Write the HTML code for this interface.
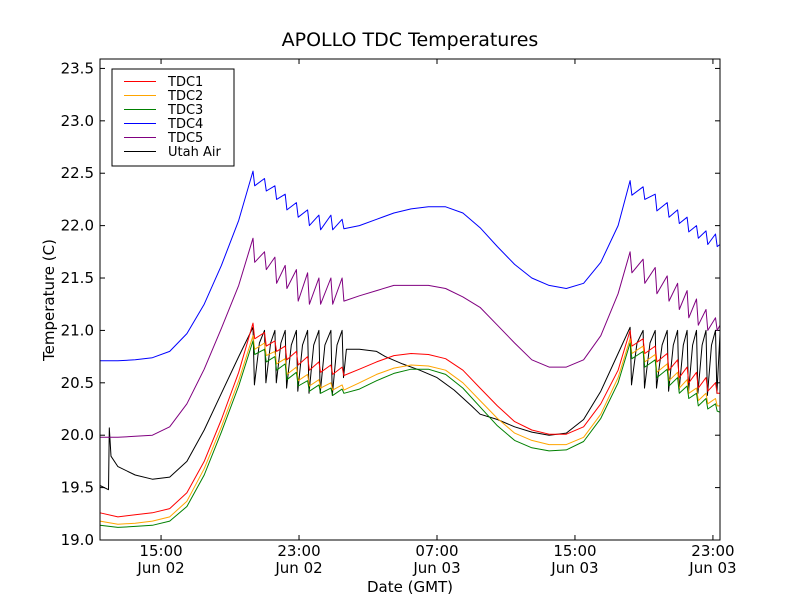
<!DOCTYPE html>
<html><head><meta charset="utf-8"><style>
body{margin:0;background:#fff;}
svg text{font-family:"DejaVu Sans","Liberation Sans",sans-serif;fill:#000;}
</style></head><body>
<svg id="chart" width="800" height="600" viewBox="0 0 800 600" xmlns="http://www.w3.org/2000/svg">
<rect width="800" height="600" fill="#fff"/>
<text x="410" y="46" font-size="19" text-anchor="middle">APOLLO TDC Temperatures</text>
<text x="54" y="300" font-size="15" text-anchor="middle" transform="rotate(-90 54 300)">Temperature (C)</text>
<text x="410" y="592" font-size="15" text-anchor="middle">Date (GMT)</text>
<g id="grid"></g>
<g id="series"></g>
<rect x="100" y="59" width="620" height="481" fill="none" stroke="#000" stroke-width="1"/>
<g id="legend"></g>
</svg>
<script>
const seriesNames = ["TDC1","TDC2","TDC3","TDC4","TDC5","Utah Air"];
const seriesColors = ["#ff0000","#ffa500","#008000","#0000ff","#800080","#000000"];
const yTicks = [19.0,19.5,20.0,20.5,21.0,21.5,22.0,22.5,23.0,23.5];
const xTickHours = [15,23,31,39,47];
const xTickTimes = ["15:00","23:00","07:00","15:00","23:00"];
const xTickDates = ["Jun 02","Jun 02","Jun 03","Jun 03","Jun 03"];
const T = [11.46,12.5,13.5,14.5,15.5,16.5,17.5,18.5,19.5,
20.33,20.43,21.0,21.1,21.6,21.7,22.2,22.3,22.85,22.95,23.5,23.6,24.15,24.25,24.85,24.95,25.5,25.6,
26.5,27.5,28.5,29.5,30.5,31.5,32.5,33.5,34.5,35.5,36.5,37.5,38.5,39.5,40.5,41.5,
42.2,42.3,42.95,43.05,43.65,43.75,44.35,44.45,44.95,45.05,45.5,45.6,46.05,46.15,46.6,46.7,47.15,47.25,47.41];
const tdc1 = [19.26,19.22,19.24,19.26,19.30,19.45,19.75,20.15,20.60,
21.07,20.92,20.98,20.85,20.90,20.80,20.85,20.72,20.80,20.67,20.75,20.62,20.70,20.60,20.67,20.58,20.65,20.57,
20.63,20.70,20.76,20.78,20.77,20.73,20.62,20.45,20.28,20.13,20.05,20.01,20.01,20.08,20.30,20.62,
21.00,20.85,20.92,20.78,20.85,20.70,20.78,20.62,20.72,20.55,20.65,20.50,20.60,20.45,20.55,20.42,20.50,20.40,20.40];
const tdc2 = [19.18,19.15,19.16,19.18,19.22,19.37,19.68,20.08,20.52,
20.95,20.82,20.88,20.76,20.80,20.68,20.73,20.58,20.65,20.52,20.58,20.47,20.53,20.45,20.50,20.43,20.48,20.43,
20.50,20.58,20.64,20.67,20.66,20.62,20.50,20.33,20.16,20.02,19.95,19.91,19.91,19.98,20.20,20.55,
20.92,20.78,20.85,20.70,20.77,20.60,20.68,20.52,20.60,20.45,20.53,20.40,20.45,20.33,20.40,20.30,20.35,20.28,20.28];
const tdc3 = [19.14,19.12,19.13,19.14,19.18,19.32,19.62,20.03,20.47,
20.90,20.77,20.82,20.70,20.75,20.62,20.68,20.53,20.60,20.47,20.52,20.42,20.48,20.40,20.45,20.38,20.44,20.40,
20.44,20.52,20.59,20.63,20.63,20.58,20.45,20.27,20.09,19.95,19.88,19.85,19.86,19.94,20.16,20.50,
20.88,20.73,20.80,20.65,20.72,20.55,20.63,20.47,20.55,20.40,20.47,20.35,20.40,20.28,20.35,20.25,20.30,20.23,20.22];
const tdc4 = [20.71,20.71,20.72,20.74,20.80,20.97,21.25,21.62,22.05,
22.52,22.38,22.45,22.33,22.38,22.25,22.30,22.15,22.22,22.08,22.15,22.00,22.10,21.96,22.10,21.96,22.06,21.97,
22.00,22.06,22.12,22.16,22.18,22.18,22.12,21.98,21.80,21.63,21.50,21.43,21.40,21.45,21.65,22.00,
22.43,22.29,22.37,22.25,22.30,22.14,22.22,22.08,22.15,22.02,22.08,21.94,22.00,21.88,21.95,21.82,21.92,21.80,21.82];
const tdc5 = [19.98,19.98,19.99,20.00,20.08,20.30,20.63,21.02,21.43,
21.88,21.65,21.75,21.58,21.70,21.45,21.62,21.40,21.58,21.28,21.55,21.25,21.50,21.25,21.50,21.25,21.50,21.28,
21.33,21.38,21.43,21.43,21.43,21.40,21.32,21.22,21.05,20.88,20.72,20.65,20.65,20.72,20.95,21.35,
21.75,21.55,21.68,21.45,21.60,21.35,21.52,21.28,21.45,21.20,21.38,21.12,21.30,21.05,21.20,21.00,21.12,21.00,21.05];
const airT = [11.46,11.95,12.0,12.1,12.5,13.5,14.5,15.5,16.5,17.5,18.5,19.5,
20.33,20.41,20.7,21.0,21.08,21.35,21.6,21.68,21.95,22.2,22.28,22.55,22.85,22.93,23.2,23.5,23.58,23.85,24.15,24.23,24.5,24.85,24.93,25.2,25.5,25.58,25.75,
26.5,27.5,28.0,29.0,30.0,31.0,32.0,33.0,33.5,34.5,35.5,36.5,37.5,38.5,39.5,40.5,41.5,
42.2,42.28,42.6,42.95,43.03,43.35,43.65,43.73,44.05,44.35,44.43,44.7,44.95,45.03,45.28,45.5,45.58,45.82,46.05,46.13,46.37,46.6,46.68,46.92,47.15,47.23,47.41];
const airV = [19.52,19.48,20.07,19.80,19.70,19.62,19.58,19.60,19.75,20.05,20.40,20.75,
21.03,20.48,20.88,21.00,20.50,20.88,21.00,20.50,20.88,21.00,20.45,20.86,21.00,20.42,20.86,21.00,20.40,20.86,21.00,20.40,20.86,21.00,20.38,20.86,21.00,20.55,20.82,
20.82,20.80,20.75,20.68,20.62,20.55,20.43,20.28,20.20,20.15,20.08,20.03,20.00,20.02,20.15,20.42,20.78,
21.03,20.48,20.88,21.00,20.45,20.88,21.00,20.45,20.86,21.00,20.42,20.86,21.00,20.42,20.86,21.00,20.40,20.86,21.00,20.40,20.86,21.00,20.38,20.86,21.00,20.40,20.97];

const X0=100,X1=720,Y0=540,Y1=59;
const H0=11.46,H1=47.41,V0=19.0,V1=23.59;
function xs(h){return X0+(h-H0)/(H1-H0)*(X1-X0);}
function ys(v){return Y0-(v-V0)/(V1-V0)*(Y0-Y1);}
const NS="http://www.w3.org/2000/svg";
function mk(tag,attrs,parent){const e=document.createElementNS(NS,tag);for(const k in attrs)e.setAttribute(k,attrs[k]);parent.appendChild(e);return e;}
const grid=document.getElementById('grid');
yTicks.forEach(v=>{
  const y=ys(v);
  const t1=mk('line',{x1:X0,x2:X0+5,y1:y,y2:y,stroke:'#000'},grid);
  
  
  mk('line',{x1:X1-5,x2:X1,y1:y,y2:y,stroke:'#000'},grid);
  const tx=mk('text',{x:X0-6,y:y+5,'font-size':15,'text-anchor':'end'},grid);
  tx.textContent=v.toFixed(1);
  
  
});
xTickHours.forEach((h,i)=>{
  const x=xs(h);
  const t1=mk('line',{x1:x,x2:x,y1:Y0,y2:Y0-5,stroke:'#000'},grid);
  
  
  mk('line',{x1:x,x2:x,y1:Y1,y2:Y1+5,stroke:'#000'},grid);
  const a=mk('text',{x:x,y:556,'font-size':15,'text-anchor':'middle'},grid);
  a.textContent=xTickTimes[i];
  
  
  const b=mk('text',{x:x,y:573,'font-size':15,'text-anchor':'middle'},grid);
  b.textContent=xTickDates[i];
  
  
});
const sg=document.getElementById('series');
const allSeries=[[T,tdc1],[T,tdc2],[T,tdc3],[T,tdc4],[T,tdc5],[airT,airV]];
const order=[5,3,4,0,1,2];
order.forEach(i=>{
  const [tt,vv]=allSeries[i];
  const d=tt.map((h,j)=>(j?'L':'M')+xs(h).toFixed(1)+' '+ys(vv[j]).toFixed(1)).join(' ');
  const p=mk('path',{d:d,fill:'none',stroke:seriesColors[i],'stroke-width':1,'stroke-linejoin':'round'},sg);
  
  
});
const lg=document.getElementById('legend');
const box=mk('rect',{x:112,y:69,width:122,height:97,fill:'#fff',stroke:'#000','stroke-width':1},lg);


seriesNames.forEach((n,i)=>{
  const y=81.5+i*14;
  const l=mk('line',{x1:124,x2:156,y1:y,y2:y,stroke:seriesColors[i],'stroke-width':1},lg);
  
  
  const t=mk('text',{x:168,y:y+4.5,'font-size':13},lg);
  t.textContent=n;
  
  
});
</script>
</body></html>
